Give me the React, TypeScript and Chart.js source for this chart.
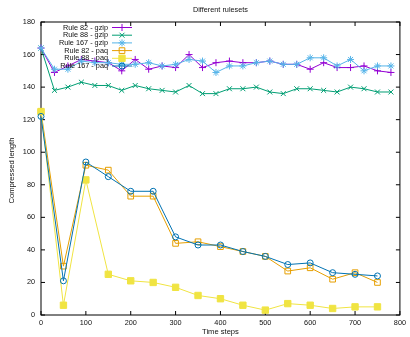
import React, { useEffect, useRef } from 'react';
import { Chart, registerables } from 'chart.js';
import { drawPoint } from 'chart.js/helpers';

Chart.register(...registerables);

const chartTitle = 'Different rulesets';
const xTitle = 'Time steps';
const yTitle = 'Compressed length';

const gzipSteps = [0, 30, 60, 90, 120, 150, 180, 210, 240, 270, 300, 330, 360, 390, 420, 450, 480, 510, 540, 570, 600, 630, 660, 690, 720, 750, 780];
const paqSteps = [0, 50, 100, 150, 200, 250, 300, 350, 400, 450, 500, 550, 600, 650, 700, 750];

const rule82Gzip = [164, 149, 153, 157, 156, 155, 150, 157, 151, 153, 152, 160, 152, 155, 156, 155, 155, 156, 154, 154, 151, 155, 152, 152, 153, 150, 149];
const rule88Gzip = [164, 138, 140, 143, 141, 141, 138, 141, 139, 138, 137, 141, 136, 136, 139, 139, 140, 137, 136, 139, 139, 138, 137, 140, 139, 137, 137];
const rule167Gzip = [164, 151, 151, 156, 155, 155, 154, 154, 155, 153, 154, 157, 156, 149, 153, 153, 155, 156, 154, 154, 158, 158, 153, 157, 150, 153, 153];
const rule82Paq = [125, 30, 92, 89, 73, 73, 44, 45, 42, 39, 36, 27, 29, 22, 26, 20];
const rule88Paq = [125, 6, 83, 25, 21, 20, 17, 12, 10, 6, 3, 7, 6, 4, 5, 5];
const rule167Paq = [122, 21, 94, 85, 76, 76, 48, 43, 43, 39, 36, 31, 32, 26, 25, 24];

const seriesLabels = ['Rule 82 - gzip', 'Rule 88 - gzip', 'Rule 167 - gzip', 'Rule 82 - paq', 'Rule 88 - paq', 'Rule 167 - paq'];
const xTickValues = [0, 100, 200, 300, 400, 500, 600, 700, 800];
const yTickValues = [0, 20, 40, 60, 80, 100, 120, 140, 160, 180];

const FONT = '"Liberation Sans", Arial, sans-serif';

function toPoints(xs: number[], ys: number[]) {
  return xs.map((x, i) => ({ x, y: ys[i] }));
}

const specs = [
  { xs: gzipSteps, ys: rule82Gzip, color: '#9400d3', style: 'cross', radius: 3.5, filled: false },
  { xs: gzipSteps, ys: rule88Gzip, color: '#009e73', style: 'crossRot', radius: 3.5, filled: false },
  { xs: gzipSteps, ys: rule167Gzip, color: '#56b4e9', style: 'star', radius: 3.5, filled: false },
  { xs: paqSteps, ys: rule82Paq, color: '#e69f00', style: 'rect', radius: 4, filled: false },
  { xs: paqSteps, ys: rule88Paq, color: '#f0e442', style: 'rect', radius: 4.5, filled: true },
  { xs: paqSteps, ys: rule167Paq, color: '#0072b2', style: 'circle', radius: 3, filled: false },
];

const decorPlugin = {
  id: 'decor',
  beforeDatasetsDraw(chart: any) {
    const { ctx, chartArea } = chart;
    const { left, right, top, bottom } = chartArea;
    const xs = chart.scales.x;
    const ys = chart.scales.y;
    ctx.save();
    ctx.strokeStyle = '#000';
    ctx.lineWidth = 1;
    ctx.strokeRect(left, top, right - left, bottom - top);
    const tl = 4;
    ctx.beginPath();
    yTickValues.forEach((v) => {
      const py = ys.getPixelForValue(v);
      ctx.moveTo(left, py);
      ctx.lineTo(left + tl, py);
      ctx.moveTo(right, py);
      ctx.lineTo(right - tl, py);
    });
    xTickValues.forEach((v) => {
      const px = xs.getPixelForValue(v);
      ctx.moveTo(px, bottom);
      ctx.lineTo(px, bottom - tl);
      ctx.moveTo(px, top);
      ctx.lineTo(px, top + tl);
    });
    ctx.stroke();
    ctx.restore();
  },
  afterDraw(chart: any) {
    const { ctx, chartArea } = chart;
    const { left, right, top, bottom } = chartArea;
    ctx.save();
    ctx.fillStyle = '#111';
    ctx.font = `7.3px ${FONT}`;
    ctx.textAlign = 'center';
    ctx.textBaseline = 'middle';
    ctx.fillText(chartTitle, (left + right) / 2, 10);
    ctx.font = `7.6px ${FONT}`;
    ctx.fillText(xTitle, (left + right) / 2, 332);
    ctx.save();
    ctx.translate(12, (top + bottom) / 2 + 2);
    ctx.rotate(-Math.PI / 2);
    ctx.fillText(yTitle, 0, 0);
    ctx.restore();

    // key
    ctx.font = `7.3px ${FONT}`;
    ctx.textAlign = 'right';
    chart.data.datasets.forEach((ds: any, i: number) => {
      const yy = 27.5 + i * 7.7;
      ctx.fillStyle = '#111';
      ctx.fillText(ds.label, 108, yy);
      ctx.strokeStyle = ds.borderColor;
      ctx.lineWidth = 1;
      ctx.beginPath();
      ctx.moveTo(112, yy);
      ctx.lineTo(132, yy);
      ctx.stroke();
      ctx.fillStyle = ds.pointBackgroundColor;
      ctx.strokeStyle = ds.borderColor;
      drawPoint(ctx, { pointStyle: ds.pointStyle, rotation: 0, radius: ds.pointRadius, borderWidth: 1 } as any, 122, yy);
    });
    ctx.restore();
  },
};

export default function App() {
  const canvasRef = useRef<HTMLCanvasElement | null>(null);

  useEffect(() => {
    if (!canvasRef.current) return;
    const datasets = specs.map((s, i) => ({
      label: seriesLabels[i],
      data: toPoints(s.xs, s.ys),
      borderColor: s.color,
      backgroundColor: s.filled ? s.color : 'rgba(0,0,0,0)',
      pointStyle: s.style,
      pointRadius: s.radius,
      pointHoverRadius: s.radius,
      pointBorderColor: s.color,
      pointBackgroundColor: s.filled ? s.color : 'rgba(0,0,0,0)',
      pointBorderWidth: 1,
      borderWidth: 1,
      tension: 0,
      fill: false,
      clip: false,
      order: 10 - i,
    }));

    const chart = new Chart(canvasRef.current, {
      type: 'line',
      data: { datasets },
      options: {
        responsive: false,
        animation: false,
        devicePixelRatio: 1,
        layout: { padding: { top: 22, right: 10, left: 0, bottom: 0 } },
        plugins: {
          legend: { display: false },
          title: { display: false },
          tooltip: { enabled: false },
        },
        scales: {
          x: {
            type: 'linear',
            min: 0,
            max: 800,
            afterFit: (scale: any) => { scale.height = 22; },
            ticks: { stepSize: 100, padding: 4, color: '#111', font: { size: 7.3, family: FONT } },
            grid: { display: false, drawTicks: false },
            border: { display: false },
          },
          y: {
            type: 'linear',
            min: 0,
            max: 180,
            afterFit: (scale: any) => { scale.width = 41; },
            ticks: { stepSize: 20, padding: 6, color: '#111', font: { size: 7.3, family: FONT } },
            grid: { display: false, drawTicks: false },
            border: { display: false },
          },
        },
      },
      plugins: [decorPlugin],
    } as any);

    return () => chart.destroy();
  }, []);

  return (
    <div style={{ position: 'absolute', left: 0, top: 0, width: 410, height: 337, background: '#fff' }}>
      <canvas ref={canvasRef} width={410} height={337} style={{ display: 'block' }} />
    </div>
  );
}
